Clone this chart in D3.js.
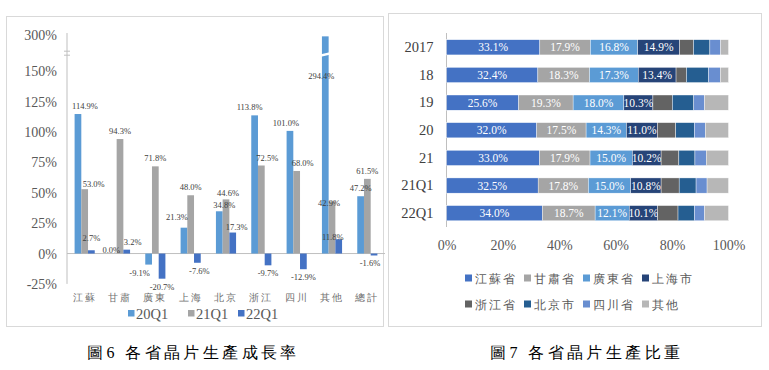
<!DOCTYPE html>
<html>
<head>
<meta charset="utf-8">
<script src="https://cdnjs.cloudflare.com/ajax/libs/d3/7.8.5/d3.min.js"></script>
<style>
  body { margin: 0; background: #fff; }
  svg text { font-family: "Liberation Serif", serif; }
</style>
</head>
<body>
<div id="chart"></div>
<script>
// ---- data: fig 6 (growth rates) ----
var provinces = ["江蘇", "甘肅", "廣東", "上海", "北京", "浙江", "四川", "其他", "總計"];
var quarters = ["20Q1", "21Q1", "22Q1"];
var growth20Q1 = [114.9, 0.0, -9.1, 21.3, 34.8, 113.8, 101.0, 294.4, 47.2];
var growth21Q1 = [53.0, 94.3, 71.8, 48.0, 44.6, 72.5, 68.0, 42.9, 61.5];
var growth22Q1 = [2.7, 3.2, -20.7, -7.6, 17.3, -9.7, -12.9, 11.8, -1.6];
var growthTicks = [-25, 0, 25, 50, 75, 100, 125, 150, 300];

// ---- data: fig 7 (shares) ----
var periods = ["2017", "18", "19", "20", "21", "21Q1", "22Q1"];
var shareNames = ["江蘇省", "甘肅省", "廣東省", "上海市", "浙江省", "北京市", "四川省", "其他"];
var shareJiangsu  = [33.1, 32.4, 25.6, 32.0, 33.0, 32.5, 34.0];
var shareGansu    = [17.9, 18.3, 19.3, 17.5, 17.9, 17.8, 18.7];
var shareGuangdong= [16.8, 17.3, 18.0, 14.3, 15.0, 15.0, 12.1];
var shareShanghai = [14.9, 13.4, 10.3, 11.0, 10.2, 10.8, 10.1];
var shareZhejiang = [4.9, 3.7, 6.9, 6.5, 6.3, 6.4, 7.2];
var shareBeijing  = [5.8, 7.8, 7.6, 6.6, 5.7, 6.0, 5.8];
var shareSichuan  = [3.8, 4.2, 3.8, 3.9, 4.0, 3.9, 3.6];
var shareOther    = [2.8, 2.9, 8.5, 8.2, 7.9, 7.6, 8.5];
var shareTicks = [0, 20, 40, 60, 80, 100];

var W = 769, H = 370;
var svg = d3.select("#chart").append("svg").attr("width", W).attr("height", H);

// panel frames
svg.append("rect").attr("x", 6.5).attr("y", 16.5).attr("width", 377).attr("height", 310)
    .attr("fill", "none").attr("stroke", "#d9d9d9");
svg.append("rect").attr("x", 388.5).attr("y", 13.5).attr("width", 373).attr("height", 313)
    .attr("fill", "none").attr("stroke", "#d9d9d9");

drawGrowth();
drawShares();

// captions
svg.append("text").attr("x", 87).attr("y", 358).attr("font-size", 16).attr("letter-spacing", 3.4)
    .attr("font-family", "Noto Sans CJK TC").attr("font-weight", 300).attr("fill", "#000")
    .text("圖6 各省晶片生產成長率");
svg.append("text").attr("x", 490).attr("y", 358).attr("font-size", 16).attr("letter-spacing", 3.4)
    .attr("font-family", "Noto Sans CJK TC").attr("font-weight", 300).attr("fill", "#000")
    .text("圖7 各省晶片生產比重");

//growth chart with broken axis between 150% and 300%
function drawGrowth(){
    var left = 67, right = 385;
    var colors = ["#5b9bd5", "#a5a5a5", "#4472c4"];
    var series = [growth20Q1, growth21Q1, growth22Q1];
    var rows = provinces.map(function(p, i){
        return {name: p, values: series.map(function(s, k){ return {q: quarters[k], v: s[i], p: p}; })};
    });

    var x0 = d3.scaleBand().domain(provinces).range([left, right]).padding(0);
    var x1 = d3.scaleBand().domain(quarters).range([x0.bandwidth() * 0.215, x0.bandwidth() * 0.785]);
    var y = d3.scaleLinear().domain([-25, 150, 300]).range([283.9, 71.4, 35]);
    var breakVal = 225;

    // zero line
    svg.append("line").attr("x1", left).attr("x2", right)
        .attr("y1", y(0)).attr("y2", y(0)).attr("stroke", "#bfbfbf");

    var yAxis = svg.append("g").attr("transform", "translate(" + left + ",0)")
        .call(d3.axisLeft(y).tickValues(growthTicks).tickSize(0).tickPadding(10)
            .tickFormat(function(d){ return d + "%"; }));
    yAxis.select(".domain").remove();
    yAxis.selectAll("text").attr("font-family", "Open Sans").attr("font-weight", 300)
        .attr("font-size", 14).attr("fill", "#595959");
    svg.append("line").attr("x1", left).attr("x2", left).attr("y1", 33).attr("y2", y(-25))
        .attr("stroke", "#bfbfbf");
    // axis break marks
    [-2, 2].forEach(function(o){
        svg.append("line").attr("x1", left - 3).attr("x2", left + 3)
            .attr("y1", y(breakVal) + o).attr("y2", y(breakVal) + o).attr("stroke", "#bfbfbf");
    });

    var groups = svg.selectAll(".grp").data(rows).enter().append("g")
        .attr("transform", function(d){ return "translate(" + x0(d.name) + ",0)"; });

    groups.selectAll("rect").data(function(d){ return d.values; }).enter().append("rect")
        .attr("x", function(d){ return x1(d.q); })
        .attr("width", x1.bandwidth())
        .attr("y", function(d){ return y(Math.max(0, d.v)); })
        .attr("height", function(d){ return Math.abs(y(d.v) - y(0)); })
        .attr("fill", function(d, i){ return colors[i]; });

    // break gap on bars that pass the break
    groups.selectAll(".gap").data(function(d){ return d.values.filter(function(v){ return v.v > breakVal; }); })
        .enter().append("path")
        .attr("d", function(d){
            var xa = x1(d.q) - 1, xb = x1(d.q) + x1.bandwidth() + 1, yy = y(breakVal);
            return "M" + xa + "," + (yy + 1) + "L" + xb + "," + (yy - 1) + "L" + xb + "," + (yy + 1.5) + "L" + xa + "," + (yy + 3.5) + "Z";
        })
        .attr("fill", "#fff");

    // label nudges to avoid overlaps, as in the original
    var nudge = {
        "江蘇|20Q1": [7, 0], "江蘇|21Q1": [9, 3], "江蘇|22Q1": [0, -4],
        "甘肅|20Q1": [-2, 4], "甘肅|22Q1": [6, 0],
        "廣東|20Q1": [-9, 0],
        "上海|20Q1": [-7, -3], "上海|22Q1": [2, 0],
        "北京|20Q1": [5, 2], "北京|21Q1": [2, 2], "北京|22Q1": [4, 2],
        "浙江|20Q1": [-5, 0], "浙江|21Q1": [6, 0],
        "四川|20Q1": [-4, 0], "四川|21Q1": [6, 0],
        "其他|20Q1": [-4, 48], "其他|21Q1": [-3, 10], "其他|22Q1": [-6, 6],
        "總計|22Q1": [-4, 0]
    };

    groups.selectAll(".lbl").data(function(d){ return d.values; }).enter().append("text")
        .attr("x", function(d){
            var n = nudge[d.p + "|" + d.q] || [0, 0];
            return x1(d.q) + x1.bandwidth() / 2 + n[0];
        })
        .attr("y", function(d){
            var n = nudge[d.p + "|" + d.q] || [0, 0];
            return (d.v >= 0 ? y(d.v) - 5 : y(d.v) + 11) + n[1];
        })
        .attr("text-anchor", "middle")
        .attr("font-family", "Open Sans")
        .attr("font-size", 8.5)
        .attr("fill", "#404040")
        .text(function(d){ return d.v.toFixed(1) + "%"; });

    // category labels
    svg.selectAll(".cat").data(provinces).enter().append("text")
        .attr("x", function(d){ return x0(d) + x0.bandwidth() / 2; })
        .attr("y", 301)
        .attr("text-anchor", "middle")
        .attr("font-family", "Noto Sans CJK TC")
        .attr("font-weight", 300)
        .attr("font-size", 10)
        .attr("letter-spacing", 2)
        .attr("fill", "#6f6f6f")
        .text(function(d){ return d; });

    // legend
    var lx = [128, 188, 238];
    quarters.forEach(function(q, i){
        svg.append("rect").attr("x", lx[i]).attr("y", 310).attr("width", 6.5).attr("height", 6.5)
            .attr("fill", colors[i]);
        svg.append("text").attr("x", lx[i] + 8).attr("y", 319).attr("font-size", 14.5)
            .attr("fill", "#595959").text(q);
    });
}

//100% stacked bar chart
function drawShares(){
    var colors = ["#4472c4", "#a5a5a5", "#5b9bd5", "#264478", "#636363", "#255e91", "#698ed0", "#b7b7b7"];
    var shareSeries = [shareJiangsu, shareGansu, shareGuangdong, shareShanghai,
                       shareZhejiang, shareBeijing, shareSichuan, shareOther];
    var table = periods.map(function(p, i){
        var row = {period: p};
        shareNames.forEach(function(n, k){ row[n] = shareSeries[k][i]; });
        return row;
    });
    var stacked = d3.stack().keys(shareNames)(table);

    var x = d3.scaleLinear().domain([0, 100]).range([446.5, 728.5]);
    var y = d3.scaleBand().domain(periods).range([33.5, 227]).paddingInner(0.45).paddingOuter(0.225);

    svg.append("line").attr("x1", x(0)).attr("x2", x(0)).attr("y1", 33).attr("y2", 227)
        .attr("stroke", "#bfbfbf");

    var layers = svg.selectAll(".layer").data(stacked).enter().append("g")
        .attr("fill", function(d, i){ return colors[i]; });

    layers.selectAll("rect").data(function(d){ return d; }).enter().append("rect")
        .attr("x", function(d){ return x(d[0]); })
        .attr("width", function(d){ return x(d[1]) - x(d[0]); })
        .attr("y", function(d){ return y(d.data.period); })
        .attr("height", y.bandwidth())
        .attr("stroke", "#fff").attr("stroke-width", 0.4);

    // labels on the first four series
    layers.filter(function(d, i){ return i < 4; })
        .selectAll("text").data(function(d){ return d; }).enter().append("text")
        .attr("x", function(d){ return (x(d[0]) + x(d[1])) / 2; })
        .attr("y", function(d){ return y(d.data.period) + y.bandwidth() / 2 + 4; })
        .attr("text-anchor", "middle")
        .attr("font-size", 11.5)
        .attr("fill", "#fff")
        .text(function(d){ return (d[1] - d[0]).toFixed(1) + "%"; });

    var yAxis = svg.append("g").attr("transform", "translate(" + x(0) + ",0)")
        .call(d3.axisLeft(y).tickSize(0).tickPadding(13));
    yAxis.select(".domain").remove();
    yAxis.selectAll("text").attr("font-family", "Liberation Serif").attr("font-size", 14.5).attr("fill", "#404040");

    var xAxis = svg.append("g").attr("transform", "translate(0,227)")
        .call(d3.axisBottom(x).tickValues(shareTicks).tickSize(0).tickPadding(13)
            .tickFormat(function(d){ return d + "%"; }));
    xAxis.select(".domain").remove();
    xAxis.selectAll("text").attr("font-family", "Liberation Serif").attr("font-size", 14).attr("fill", "#595959");

    // legend in two rows of four
    shareNames.forEach(function(n, i){
        var lx = 465 + (i % 4) * 59, ly = i < 4 ? 278 : 304;
        svg.append("rect").attr("x", lx).attr("y", ly - 3.5).attr("width", 7).attr("height", 7)
            .attr("fill", colors[i]);
        svg.append("text").attr("x", lx + 10).attr("y", ly + 4.5)
            .attr("font-family", "Noto Sans CJK TC").attr("font-weight", 300)
            .attr("font-size", 12).attr("letter-spacing", 2)
            .attr("fill", "#595959").text(n);
    });
}
</script>
</body>
</html>
